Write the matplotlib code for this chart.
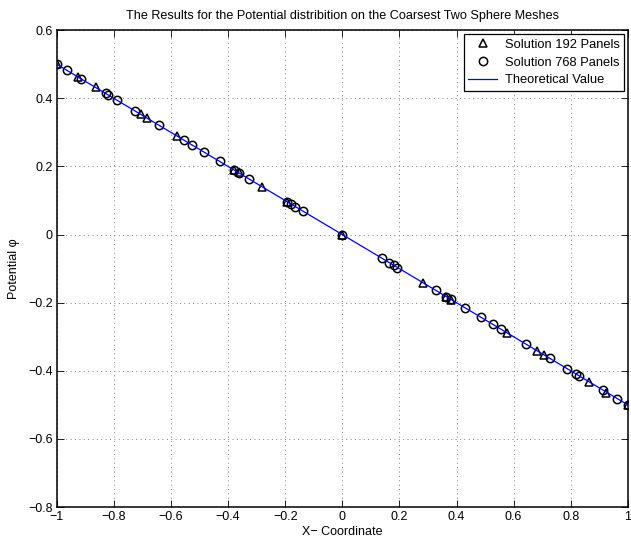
import matplotlib
matplotlib.use("Agg")
import matplotlib.pyplot as plt
from matplotlib.ticker import FuncFormatter

plt.rcParams['font.family'] = ['Liberation Sans', 'DejaVu Sans']

# Solution 192 panels (triangles)
x192 = [-1.0, -0.925, -0.864, -0.706, -0.683, -0.578, -0.380, -0.363, -0.281, -0.193,
        0.0, 0.281, 0.363, 0.380, 0.578, 0.683, 0.706, 0.864, 0.925, 1.0]
phi192 = [0.500, 0.464, 0.432, 0.355, 0.343, 0.290, 0.191, 0.183, 0.141, 0.097,
          0.0, -0.141, -0.183, -0.191, -0.290, -0.343, -0.355, -0.432, -0.464, -0.500]

# Solution 768 panels (circles)
x768 = [-1.0, -0.963, -0.914, -0.829, -0.819, -0.788, -0.726, -0.642, -0.555, -0.526,
        -0.485, -0.429, -0.380, -0.363, -0.328, -0.193, -0.180, -0.164, -0.139, 0.0,
        0.139, 0.164, 0.180, 0.193, 0.328, 0.363, 0.380, 0.429, 0.485, 0.526,
        0.555, 0.642, 0.726, 0.788, 0.819, 0.829, 0.914, 0.963, 1.0]
phi768 = [0.500, 0.482, 0.457, 0.415, 0.410, 0.394, 0.363, 0.321, 0.278, 0.263,
          0.243, 0.215, 0.190, 0.182, 0.164, 0.097, 0.090, 0.082, 0.070, 0.0,
          -0.070, -0.082, -0.090, -0.097, -0.164, -0.182, -0.190, -0.215, -0.243, -0.263,
          -0.278, -0.321, -0.363, -0.394, -0.410, -0.415, -0.457, -0.482, -0.500]

# Theoretical value
x_theory = [-1.0, 1.0]
phi_theory = [0.5, -0.5]

fig = plt.figure(figsize=(6.31, 5.40), dpi=100)
ax = fig.add_axes([0.0900, 0.061, 0.905, 0.883])

ax.plot(x192, phi192, linestyle='none', marker='^', markersize=6,
        markerfacecolor='none', markeredgecolor='black', markeredgewidth=1.1,
        label='Solution 192 Panels')
ax.plot(x768, phi768, linestyle='none', marker='o', markersize=6,
        markerfacecolor='none', markeredgecolor='black', markeredgewidth=1.1,
        label='Solution 768 Panels')
ax.plot(x_theory, phi_theory, color='blue', linewidth=0.9, label='Theoretical Value')

ax.set_xlim(-1, 1)
ax.set_ylim(-0.8, 0.6)
ax.set_xticks([-1, -0.8, -0.6, -0.4, -0.2, 0, 0.2, 0.4, 0.6, 0.8, 1])
ax.set_yticks([-0.8, -0.6, -0.4, -0.2, 0, 0.2, 0.4, 0.6])
fmt = FuncFormatter(lambda v, p: ('%g' % round(v, 6)).replace('-', '\u2212'))
ax.xaxis.set_major_formatter(fmt)
ax.yaxis.set_major_formatter(fmt)
ax.tick_params(direction='in', top=True, right=True, labelsize=9, length=5, width=0.6, pad=3)
ax.grid(True, linestyle=(0, (1, 3.5)), color='0.5', linewidth=0.7)
for s in ax.spines.values():
    s.set_linewidth(1.1)

ax.set_title('The Results for the Potential distribition on the Coarsest Two Sphere Meshes',
             fontsize=9.1, pad=8)
ax.set_xlabel('X\u2212 Coordinate', fontsize=9, labelpad=2)
ax.set_ylabel('Potential \u03c6', fontsize=9, labelpad=6)

leg = ax.legend(loc='upper right', fontsize=9.3, fancybox=False, edgecolor='black',
                framealpha=1, borderpad=0.35, labelspacing=0.45, handlelength=2.2,
                handletextpad=0.6, borderaxespad=0.3)
leg.get_frame().set_linewidth(0.9)

fig.savefig('out.png', dpi=100)
